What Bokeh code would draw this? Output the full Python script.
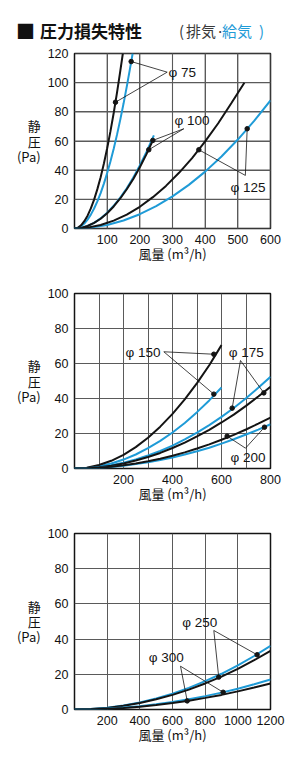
from bokeh.plotting import figure
from bokeh.layouts import column
from bokeh.models import Range1d, FixedTicker, Label, Grid, LinearAxis, Div
from bokeh.embed import file_html
from bokeh.resources import INLINE

BLACK = "#141414"
BLUE = "#1f9bd7"
GRID = "#5a5a5a"

# ---------------- data ----------------
# chart 1 : 0-600 m3/h, 0-120 Pa
c1_d75_k_x = [0, 10, 20, 30, 40, 50, 60, 70, 80, 90, 100, 110, 120, 130, 140, 148]
c1_d75_k_y = [0, 0.55, 2.2, 5.0, 8.8, 13.8, 19.8, 27.0, 35.2, 44.6, 55.0, 66.6, 79.2, 93.0, 107.8, 120]
c1_d75_b_x = [0, 10, 20, 30, 40, 50, 60, 70, 80, 90, 100, 110, 120, 130, 140, 150, 160, 170, 178]
c1_d75_b_y = [0, 0.38, 1.5, 3.4, 6.1, 9.5, 13.7, 18.6, 24.3, 30.8, 38.0, 46.0, 54.7, 64.2, 74.5, 85.5,
              97.3, 109.8, 120]
c1_d100_k_x = [0, 20, 40, 60, 80, 100, 120, 140, 160, 180, 200, 220, 240]
c1_d100_k_y = [0, 0.4, 1.7, 3.8, 6.7, 10.5, 15.1, 20.6, 26.9, 34.0, 42.0, 50.8, 60.5]
c1_d100_b_x = [0, 20, 40, 60, 80, 100, 120, 140, 160, 180, 200, 220, 243]
c1_d100_b_y = [0, 0.4, 1.7, 3.9, 6.9, 10.8, 15.6, 21.2, 27.6, 35.0, 43.2, 52.3, 63.8]
c1_d125_k_x = [0, 40, 80, 120, 160, 200, 240, 280, 320, 360, 400, 440, 480, 520]
c1_d125_k_y = [0, 0.6, 2.4, 5.4, 9.5, 14.9, 21.5, 29.2, 38.2, 48.3, 59.7, 72.2, 85.9, 100]
c1_d125_b_x = [0, 50, 100, 150, 200, 250, 300, 350, 400, 450, 500, 550, 600]
c1_d125_b_y = [0, 0.6, 2.4, 5.5, 9.8, 15.3, 22.0, 29.9, 39.0, 49.4, 61.0, 73.8, 87.8]

# chart 2 : 0-800 m3/h, 0-100 Pa
c2_d150_x = [0, 50, 100, 150, 200, 250, 300, 350, 400, 450, 500, 550, 600]
c2_d150_k_y = [0, 0.5, 2.0, 4.4, 7.8, 12.2, 17.6, 23.9, 31.2, 39.5, 48.8, 59.0, 70.5]
c2_d150_b_y = [0, 0.3, 1.3, 2.9, 5.1, 8.0, 11.6, 15.8, 20.6, 26.0, 32.2, 38.9, 46.3]
c2_x = [0, 50, 100, 150, 200, 250, 300, 350, 400, 450, 500, 550, 600, 650, 700, 750, 800]
c2_d175_b_y = [0, 0.2, 0.8, 1.8, 3.3, 5.1, 7.4, 10.0, 13.1, 16.6, 20.5, 24.8, 29.5, 34.6, 40.1, 46.1, 52.4]
c2_d175_k_y = [0, 0.2, 0.7, 1.6, 2.9, 4.6, 6.6, 8.9, 11.7, 14.8, 18.3, 22.1, 26.3, 30.8, 35.8, 41.1, 46.7]
c2_d200_k_y = [0, 0.1, 0.5, 1.0, 1.8, 2.8, 4.1, 5.6, 7.3, 9.2, 11.4, 13.8, 16.4, 19.2, 22.3, 25.6, 29.1]
c2_d200_b_y = [0, 0.1, 0.4, 0.9, 1.6, 2.5, 3.6, 4.8, 6.3, 8.0, 9.9, 11.9, 14.2, 16.7, 19.4, 22.2, 25.3]

# chart 3 : 0-1200 m3/h, 0-100 Pa
c3_x = [0, 100, 200, 300, 400, 500, 600, 700, 800, 900, 1000, 1100, 1200]
c3_d250_b_y = [0, 0.25, 1.0, 2.3, 4.0, 6.3, 9.0, 12.3, 16.1, 20.3, 25.1, 30.4, 36.2]
c3_d250_k_y = [0, 0.23, 0.9, 2.1, 3.7, 5.8, 8.3, 11.3, 14.8, 18.7, 23.1, 28.0, 33.3]
c3_d300_b_y = [0, 0.1, 0.5, 1.1, 1.9, 3.0, 4.2, 5.8, 7.6, 9.6, 11.8, 14.3, 17.0]
c3_d300_k_y = [0, 0.1, 0.4, 0.9, 1.6, 2.6, 3.7, 5.0, 6.6, 8.3, 10.3, 12.5, 14.8]

# tick labels
c1_xticks = [100, 200, 300, 400, 500, 600]
c1_yticks = [0, 20, 40, 60, 80, 100, 120]
c2_xticks = [200, 400, 600, 800]
c2_xgrid_extra = [100, 300, 500, 700]
c2_yticks = [0, 20, 40, 60, 80, 100]
c3_xticks = [200, 400, 600, 800, 1000, 1200]
c3_yticks = [0, 20, 40, 60, 80, 100]

X_LABEL = "風量 (m³/h)"
Y_LABEL = "静\n圧\n(Pa)"

# leader annotations: label text, label anchor, line start, dot targets
c1_notes = [
    ("φ 75", (288, 107.2), (283.7, 107.2), [(173.5, 114.5), (125.5, 86.6)]),
    ("φ 100", (306, 74), (334.6, 68.4), [(239.7, 60.4), (227.4, 54)]),
    ("φ 125", (477.6, 28.3), (523, 36.4), [(380.6, 54), (528.6, 68.4)]),
]
c2_notes = [
    ("φ 150", (208, 66.5), (364.6, 66.7), [(568.7, 65.3), (568.7, 42.5)]),
    ("φ 175", (630, 66.5), (677.5, 61.7), [(643.5, 34.5), (772.8, 43.2)]),
    ("φ 200", (637, 6.1), (698, 11.6), [(623, 18.5), (775.5, 23.6)]),
]
c3_notes = [
    ("φ 250", (659, 49.6), (853, 44.9), [(883, 18.4), (1118, 31.1)]),
    ("φ 300", (455, 29.4), (649, 24.6), [(690, 4.9), (910, 9.8)]),
]

FL, FR = 74, 270  # frame left/right in px


def style_grid(g):
    g.grid_line_color = GRID
    g.grid_line_width = 1


def make_fig(height, top, bottom, xr, yr, xticks, yticks):
    p = figure(width=300, height=height, output_backend="svg", toolbar_location=None,
               x_range=Range1d(*xr), y_range=Range1d(*yr),
               x_axis_type=None, y_axis_type=None,
               min_border_left=FL, min_border_right=300 - FR,
               min_border_top=top, min_border_bottom=bottom)
    xa = LinearAxis(ticker=FixedTicker(ticks=xticks))
    ya = LinearAxis(ticker=FixedTicker(ticks=yticks))
    p.add_layout(xa, "below")
    p.add_layout(ya, "left")
    for dim, ax in ((0, xa), (1, ya)):
        g = Grid(dimension=dim, ticker=ax.ticker)
        style_grid(g)
        p.add_layout(g)
    p.outline_line_color = BLACK
    p.outline_line_width = 1.5
    for ax in (xa, ya):
        ax.axis_line_color = None
        ax.major_tick_line_color = None
        ax.minor_tick_line_color = None
        ax.major_tick_out = 0
        ax.major_tick_in = 0
        ax.minor_tick_out = 0
        ax.minor_tick_in = 0
        ax.major_label_text_font = "Liberation Sans"
        ax.major_label_text_font_size = "12.5px"
        ax.major_label_text_color = "#111111"
        ax.major_label_standoff = 6
        ax.axis_label_text_font = "Noto Sans CJK JP"
        ax.axis_label_text_font_style = "normal"
        ax.axis_label_text_color = "#111111"
        ax.axis_label_text_font_size = "13px"
    xa.axis_label = X_LABEL
    xa.axis_label_standoff = -3
    ya.axis_label = Y_LABEL
    ya.axis_label_orientation = "horizontal"
    ya.axis_label_standoff = 4
    ya.axis_label_text_line_height = 0.8
    return p


def add_grid_lines(p, xticks, yticks, xr, yr):
    # grid lines drawn as line glyphs at the tick positions (backup for the grid renderer)
    for t in xticks:
        p.line([t, t], [yr[0], yr[1]], line_color=GRID, line_width=1.1)
    for t in yticks:
        p.line([xr[0], xr[1]], [t, t], line_color=GRID, line_width=1.1)


def add_notes(p, notes):
    for text, (tx, ty), (sx, sy), targets in notes:
        p.add_layout(Label(x=tx, y=ty, text=text, text_font="Liberation Sans",
                           text_font_size="13.5px", text_color=BLACK,
                           text_baseline="middle", text_align="left"))
        for (ex, ey) in targets:
            p.line([sx, ex], [sy, ey], line_color=BLACK, line_width=0.8)
        p.scatter([t[0] for t in targets], [t[1] for t in targets], size=4.5,
                  color=BLACK)


LW = 2.0

title = Div(
    text=(
        '<div style="position:relative;width:300px;height:45px;margin:0;padding:0;'
        'font-family:\'Noto Sans CJK JP\';">'
        '<span style="position:absolute;left:16px;top:19px;font-size:19px;line-height:24px;'
        'color:#111;">■</span>'
        '<span style="position:absolute;left:40px;top:20px;font-size:17px;line-height:22px;'
        'font-weight:bold;color:#111;">圧力損失特性</span>'
        '<span style="position:absolute;left:179px;top:20px;font-size:15px;line-height:22px;'
        'color:#3a3a3a;">(</span>'
        '<span style="position:absolute;left:186px;top:20px;font-size:15px;line-height:22px;'
        'color:#3a3a3a;">排気·</span>'
        '<span style="position:absolute;left:222px;top:20px;font-size:15px;line-height:22px;'
        'color:#1f9bd7;">給気</span>'
        '<span style="position:absolute;left:259px;top:20px;font-size:15px;line-height:22px;'
        'color:#1f9bd7;">)</span>'
        '</div>'
    ),
    width=300, height=45, margin=(0, 0, 0, 0),
)

# ---------- chart 1 ----------
xr1, yr1 = (0, 600), (0, 120)
p1 = make_fig(227, 8, 44, xr1, yr1, c1_xticks, c1_yticks)
add_grid_lines(p1, c1_xticks, c1_yticks, xr1, yr1)
p1.line(c1_d75_b_x, c1_d75_b_y, line_color=BLUE, line_width=LW)
p1.line(c1_d75_k_x, c1_d75_k_y, line_color=BLACK, line_width=LW)
p1.line(c1_d100_b_x, c1_d100_b_y, line_color=BLUE, line_width=LW)
p1.line(c1_d100_k_x, c1_d100_k_y, line_color=BLACK, line_width=LW)
p1.line(c1_d125_b_x, c1_d125_b_y, line_color=BLUE, line_width=LW)
p1.line(c1_d125_k_x, c1_d125_k_y, line_color=BLACK, line_width=LW)
add_notes(p1, c1_notes)

# ---------- chart 2 ----------
xr2, yr2 = (0, 800), (0, 100)
p2 = make_fig(240, 21, 44, xr2, yr2, c2_xticks, c2_yticks)
g_extra = Grid(dimension=0, ticker=FixedTicker(ticks=c2_xgrid_extra))
style_grid(g_extra)
p2.add_layout(g_extra)
p2.line(c2_d150_x, c2_d150_b_y, line_color=BLUE, line_width=LW)
p2.line(c2_d150_x, c2_d150_k_y, line_color=BLACK, line_width=LW)
p2.line(c2_x, c2_d175_b_y, line_color=BLUE, line_width=LW)
p2.line(c2_x, c2_d175_k_y, line_color=BLACK, line_width=LW)
p2.line(c2_x, c2_d200_b_y, line_color=BLUE, line_width=LW)
p2.line(c2_x, c2_d200_k_y, line_color=BLACK, line_width=LW)
add_notes(p2, c2_notes)

# ---------- chart 3 ----------
xr3, yr3 = (0, 1200), (0, 100)
p3 = make_fig(252, 21, 55, xr3, yr3, c3_xticks, c3_yticks)
p3.line(c3_x, c3_d250_b_y, line_color=BLUE, line_width=LW)
p3.line(c3_x, c3_d250_k_y, line_color=BLACK, line_width=LW)
p3.line(c3_x, c3_d300_b_y, line_color=BLUE, line_width=LW)
p3.line(c3_x, c3_d300_k_y, line_color=BLACK, line_width=LW)
add_notes(p3, c3_notes)

layout = column(title, p1, p2, p3, spacing=0)
open("out.html", "w").write(file_html(layout, INLINE))
